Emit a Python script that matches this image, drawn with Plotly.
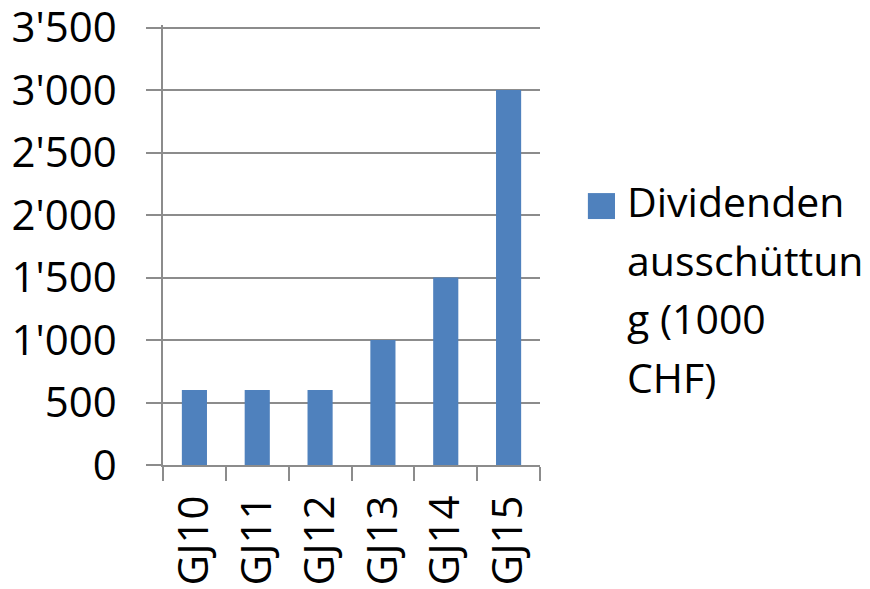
import plotly.graph_objects as go

categories = ["GJ10", "GJ11", "GJ12", "GJ13", "GJ14", "GJ15"]
values = [600, 600, 600, 1000, 1500, 3000]
legend_lines = ["Dividenden", "ausschüttun", "g (1000", "CHF)"]
y_tickvals = [0, 500, 1000, 1500, 2000, 2500, 3000, 3500]
y_ticktext = ["0", "500", "1'000", "1'500", "2'000", "2'500", "3'000", "3'500"]

FONT = "Open Sans"
GRID = "#8c8c8c"
BAR = "#4f81bd"

fig = go.Figure()
fig.add_trace(go.Bar(
    x=categories, y=values, name=" ".join(legend_lines),
    marker=dict(color=BAR, line=dict(width=0)),
    width=0.4, showlegend=False,
))

# legend drawn as a swatch + text lines (paper coords relative to plot area)
fig.add_shape(type="rect", xref="paper", yref="paper",
              x0=1.127, x1=1.199, y0=0.559, y1=0.618,
              fillcolor=BAR, line=dict(width=0))
line_y = [0.600, 0.467, 0.335, 0.201]
for txt, yy in zip(legend_lines, line_y):
    fig.add_annotation(text=txt, xref="paper", yref="paper", x=1.226, y=yy,
                       xanchor="left", yanchor="middle", showarrow=False,
                       font=dict(family=FONT, size=41, color="black"))

# page body has an 8px default margin, so the figure is shrunk by 8px
fig.update_layout(
    width=862, height=581,
    margin=dict(l=155, r=330, t=17, b=124),
    paper_bgcolor="white", plot_bgcolor="white",
    font=dict(family=FONT, size=42, color="black"),
    showlegend=False,
    bargap=0.6,
)
fig.update_xaxes(
    type="category", tickangle=-90, showgrid=False, automargin=False,
    showline=True, linecolor=GRID, linewidth=1.5,
    ticks="outside", ticklen=14, tickcolor=GRID, tickwidth=1.5,
    tickson="boundaries", ticklabelstandoff=12,
    tickfont=dict(family=FONT, size=42),
)
fig.update_yaxes(
    range=[0, 3520], tickvals=y_tickvals, ticktext=y_ticktext,
    automargin=False, ticklabeloverflow="allow",
    showgrid=True, gridcolor=GRID, gridwidth=1.5,
    showline=True, linecolor=GRID, linewidth=1.5,
    ticks="outside", ticklen=15, tickcolor=GRID, tickwidth=1.5,
    ticklabelstandoff=21, zeroline=False,
    tickfont=dict(family=FONT, size=42),
)

fig.write_html("out.html")
